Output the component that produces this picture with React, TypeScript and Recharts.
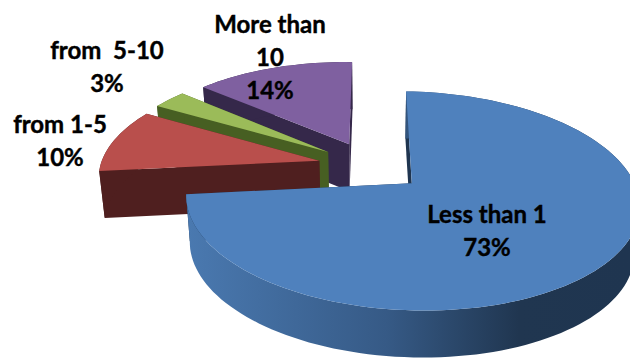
import { PieChart, Pie } from 'recharts';

// Painted back to front, so the big slice comes last and overlaps the others
const categories = ['More than\n10', 'from  5-10', 'from 1-5', 'Less than 1'];
const shares = [14, 3, 10, 73];
const topColors = ['#7f60a0', '#9bbb59', '#b94f4c', '#4f81bd'];
const wallColors = ['#35284a', '#475f22', '#4f1f1f', 'url(#blueWall)'];
const labelSpots = [
  { x: 270, y: 33 },
  { x: 107, y: 59 },
  { x: 60, y: 133 },
  { x: 487, y: 223 },
];

const chartData = categories.map((name, i) => ({ name, value: shares[i], fill: topColors[i] }));

const EXPLODE = 53;
const DEPTH = 47;
const HORIZON = -474;
const EYE_HEIGHT = 640;
const PERSPECTIVE = 0.000726;
const ROLL = 0.012;

type Pt = [number, number];

// Flat pie coordinates to screen: further back means smaller and closer to the horizon
function project(cx: number, X: number, Y: number): Pt {
  const s = 1 / (1 + PERSPECTIVE * Y);
  return [cx + X * s, HORIZON + EYE_HEIGHT * s + ROLL * X];
}

const drop = (cx: number, p: Pt): Pt => [cx + (p[0] - cx) * 0.98, p[1] + DEPTH];
const toPath = (pts: Pt[]) => 'M' + pts.map((p) => p[0].toFixed(1) + ',' + p[1].toFixed(1)).join('L') + 'Z';

function Slice3D(props: any) {
  const { cx, outerRadius, startAngle, endAngle, fill, index } = props;
  const rad = Math.PI / 180;
  const mid = ((startAngle + endAngle) / 2) * rad;
  const ox = EXPLODE * Math.cos(mid);
  const oy = EXPLODE * Math.sin(mid);
  const apex = project(cx, ox, oy);

  const arc: Pt[] = [];
  const steps = Math.max(4, Math.ceil(Math.abs(endAngle - startAngle) / 2));
  for (let i = 0; i <= steps; i++) {
    const a = (startAngle + ((endAngle - startAngle) * i) / steps) * rad;
    arc.push(project(cx, ox + outerRadius * Math.cos(a), oy + outerRadius * Math.sin(a)));
  }
  const first = arc[0];
  const last = arc[arc.length - 1];
  const outerWall = [...arc, ...arc.map((p) => drop(cx, p)).reverse()];
  const radialFill = index === 3 ? '#1f3550' : wallColors[index];

  return (
    <g>
      <defs>
        <linearGradient id="blueWall" gradientUnits="userSpaceOnUse" x1="187" y1="0" x2="630" y2="0">
          <stop offset="0%" stopColor="#4a79b0" />
          <stop offset="45%" stopColor="#365a86" />
          <stop offset="75%" stopColor="#203650" />
          <stop offset="100%" stopColor="#1f3550" />
        </linearGradient>
      </defs>
      <path d={toPath([apex, first, drop(cx, first), drop(cx, apex)])} fill={radialFill} />
      <path d={toPath([apex, last, drop(cx, last), drop(cx, apex)])} fill={radialFill} />
      <path d={toPath(outerWall)} fill={wallColors[index]} />
      <path d={toPath([apex, ...arc])} fill={fill} />
    </g>
  );
}

function SliceLabel({ index, name, value }: any) {
  const spot = labelSpots[index];
  const lines = [...String(name).split('\n'), value + '%'];
  return (
    <text
      x={spot.x}
      y={spot.y}
      textAnchor="middle"
      fill="#000"
      stroke="#000"
      strokeWidth={0.4}
      fontFamily="Lato"
      fontWeight={700}
      fontSize={24}
      style={{ whiteSpace: 'pre' }}
    >
      {lines.map((line, i) => (
        <tspan key={i} x={spot.x} dy={i === 0 ? 0 : 33}>
          {line}
        </tspan>
      ))}
    </text>
  );
}

export default function App() {
  return (
    <div style={{ position: 'absolute', left: 0, top: 0, width: 630, height: 359, overflow: 'hidden', background: '#fff' }}>
      <PieChart width={630} height={359} margin={{ top: 0, right: 0, bottom: 0, left: 0 }}>
        <Pie
          data={chartData}
          dataKey="value"
          nameKey="name"
          cx={371}
          cy={166}
          outerRadius={218}
          startAngle={90}
          endAngle={450}
          stroke="none"
          isAnimationActive={false}
          shape={Slice3D}
          label={SliceLabel}
          labelLine={false}
        />
      </PieChart>
    </div>
  );
}
